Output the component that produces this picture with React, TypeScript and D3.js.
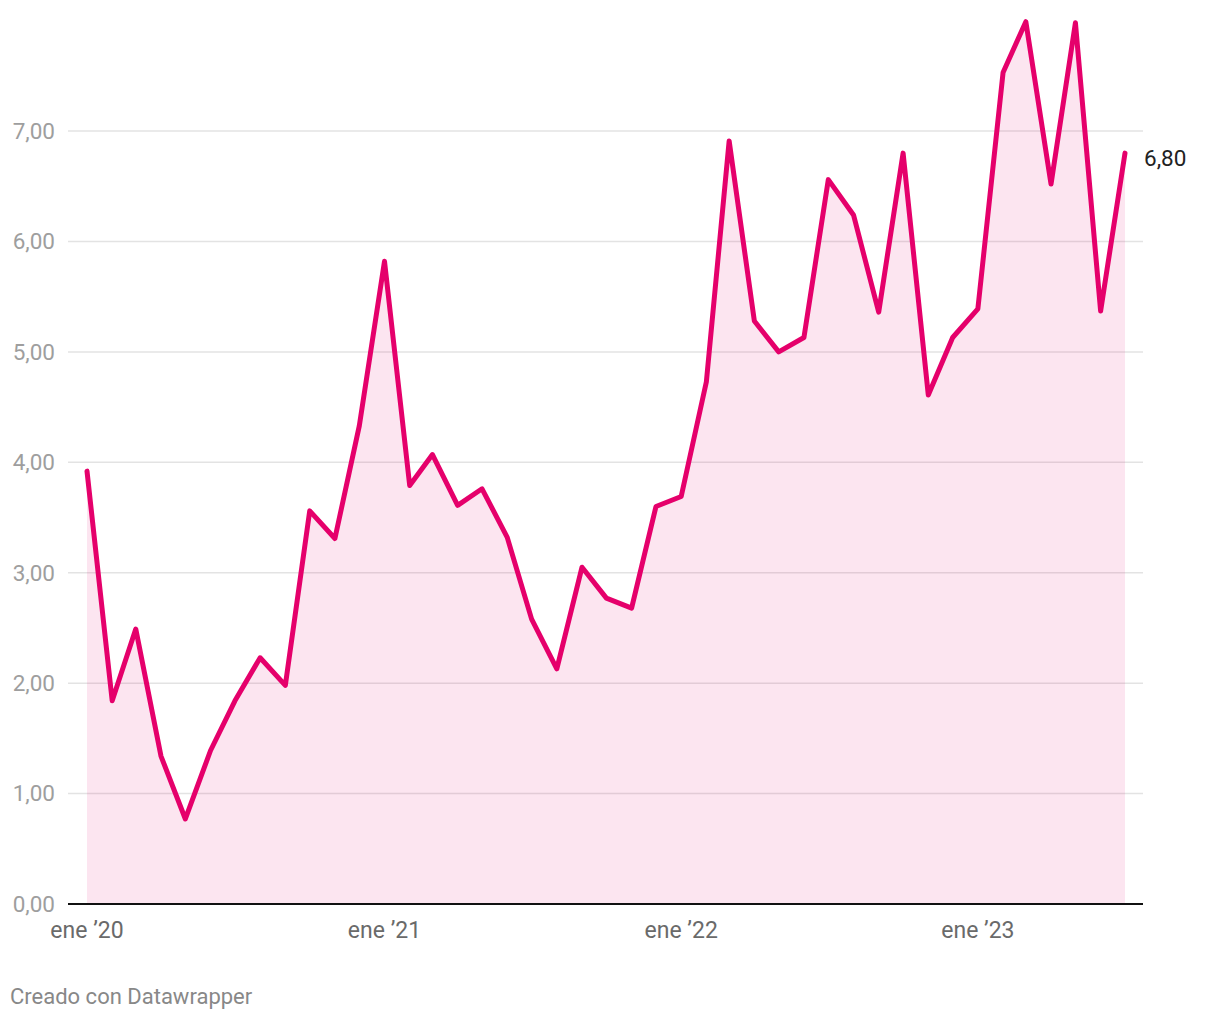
import React from "react";
import * as d3 from "d3";

const months: string[] = [
  "2020-01","2020-02","2020-03","2020-04","2020-05","2020-06","2020-07","2020-08","2020-09","2020-10","2020-11","2020-12",
  "2021-01","2021-02","2021-03","2021-04","2021-05","2021-06","2021-07","2021-08","2021-09","2021-10","2021-11","2021-12",
  "2022-01","2022-02","2022-03","2022-04","2022-05","2022-06","2022-07","2022-08","2022-09","2022-10","2022-11","2022-12",
  "2023-01","2023-02","2023-03","2023-04","2023-05","2023-06","2023-07",
];
const values: number[] = [
  3.92, 1.84, 2.49, 1.34, 0.77, 1.39, 1.84, 2.23, 1.98, 3.56, 3.31, 4.33,
  5.82, 3.79, 4.07, 3.61, 3.76, 3.32, 2.58, 2.13, 3.05, 2.77, 2.68, 3.60,
  3.69, 4.73, 6.91, 5.28, 5.00, 5.13, 6.56, 6.24, 5.36, 6.80, 4.61, 5.13,
  5.39, 7.53, 7.99, 6.52, 7.98, 5.37, 6.80,
];
const yTicks: number[] = [0, 1, 2, 3, 4, 5, 6, 7];
const xTickDates: string[] = ["2020-01", "2021-01", "2022-01", "2023-01"];
const xTickLabels: string[] = ["ene ’20", "ene ’21", "ene ’22", "ene ’23"];
const lastLabel = "6,80";
const credit = "Creado con Datawrapper";

const parse = d3.timeParse("%Y-%m");
const fmt = (v: number) => v.toFixed(2).replace(".", ",");

export default function App() {
  const W = 1220, H = 1020;
  const dates = months.map((m) => parse(m) as Date);
  const x = d3.scaleTime().domain([dates[0], dates[dates.length - 1]]).range([87, 1125]);
  const y = d3.scaleLinear().domain([0, 8]).range([904, 20.6]);
  const data = dates.map((d, i) => ({ d, v: values[i] }));
  const line = d3.line<{ d: Date; v: number }>().x((p) => x(p.d)).y((p) => y(p.v));
  const area = d3.area<{ d: Date; v: number }>().x((p) => x(p.d)).y0(y(0)).y1((p) => y(p.v));
  const last = data[data.length - 1];
  const font = "Roboto, 'Noto Sans', sans-serif";
  return (
    <div style={{ position: "absolute", left: 0, top: 0 }}>
      <svg width={W} height={H} style={{ display: "block", background: "#fff" }}>
        {yTicks.map((t) => (
          <g key={t}>
            {t > 0 && <line x1={68} x2={1143} y1={y(t)} y2={y(t)} stroke="#e3e3e3" strokeWidth={1.5} />}
            <text x={55} y={y(t)} dy="0.35em" textAnchor="end" fill="#9e9e9e" fontSize={22.5} fontFamily={font}>
              {fmt(t)}
            </text>
          </g>
        ))}
        <path d={area(data) || ""} fill="#e5006b" fillOpacity={0.1} />
        <line x1={68} x2={1143} y1={y(0)} y2={y(0)} stroke="#111" strokeWidth={2} />
        <path d={line(data) || ""} fill="none" stroke="#e5006b" strokeWidth={5} strokeLinejoin="round" strokeLinecap="round" />
        {xTickDates.map((s, i) => (
          <text key={s} x={x(parse(s) as Date)} y={938} textAnchor="middle" fill="#6a6a6a" fontSize={23} fontFamily={font}>
            {xTickLabels[i]}
          </text>
        ))}
        <text x={x(last.d) + 19} y={y(last.v) + 5} dy="0.35em" fill="#222" fontSize={22.5} fontFamily={font}>
          {lastLabel}
        </text>
        <text x={10} y={1004} fill="#888" fontSize={22} fontFamily={font}>
          {credit}
        </text>
      </svg>
    </div>
  );
}
